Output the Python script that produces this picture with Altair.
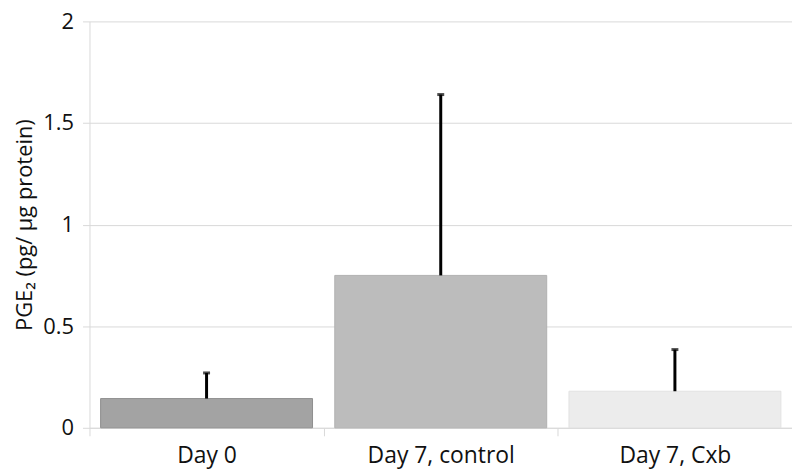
import altair as alt
import pandas as pd

groups = ["Day 0", "Day 7, control", "Day 7, Cxb"]
means = [0.144, 0.75, 0.18]
uppers = [0.27, 1.64, 0.385]
fills = ["#a3a3a3", "#bcbcbc", "#ececec"]
strokes = ["#8f8f8f", "#b0b0b0", "#e2e2e2"]

df = pd.DataFrame({"group": groups, "mean": means, "upper": uppers,
                   "fill": fills, "stroke": strokes})

FONT = "Open Sans"
x = alt.X("group:N", sort=groups, title=None,
          scale=alt.Scale(paddingInner=0, paddingOuter=0),
          axis=alt.Axis(labelAngle=0, tickBand="extent", tickSize=8,
                        tickColor="#d9d9d9", domainColor="#d9d9d9",
                        labelFont=FONT, labelFontSize=23, labelColor="#111",
                        labelPadding=9, grid=False))
y = alt.Y("mean:Q", title="PGE₂ (pg/ µg protein)",
          scale=alt.Scale(domain=[0, 2]),
          axis=alt.Axis(values=[0, 0.5, 1, 1.5, 2], format="~g", tickSize=7,
                        tickColor="#d9d9d9", domainColor="#d9d9d9",
                        gridColor="#d9d9d9", labelFont=FONT, labelFontSize=22,
                        labelColor="#111", labelPadding=9, titleFont=FONT,
                        titleFontSize=22, titleFontWeight="normal",
                        titleColor="#111", titlePadding=6))

bars = alt.Chart(df).mark_bar(width=alt.RelativeBandSize(0.905), strokeWidth=1).encode(
    x=x, y=y,
    fill=alt.Fill("fill:N", scale=None),
    stroke=alt.Stroke("stroke:N", scale=None),
)
err = alt.Chart(df).mark_rule(color="black", strokeWidth=3).encode(
    x=alt.X("group:N", sort=groups), y="mean:Q", y2="upper:Q")
cap = alt.Chart(df).mark_tick(color="black", size=7, thickness=3).encode(
    x=alt.X("group:N", sort=groups), y="upper:Q")

chart = alt.layer(bars, err, cap).properties(
    width=707, height=409,
    autosize=alt.AutoSizeParams(type="none"),
    padding={"left": 82, "top": 12, "right": 0, "bottom": 46},
).configure_view(stroke=None)

chart.save("out.html", embed_options={"renderer": "svg", "actions": False})
